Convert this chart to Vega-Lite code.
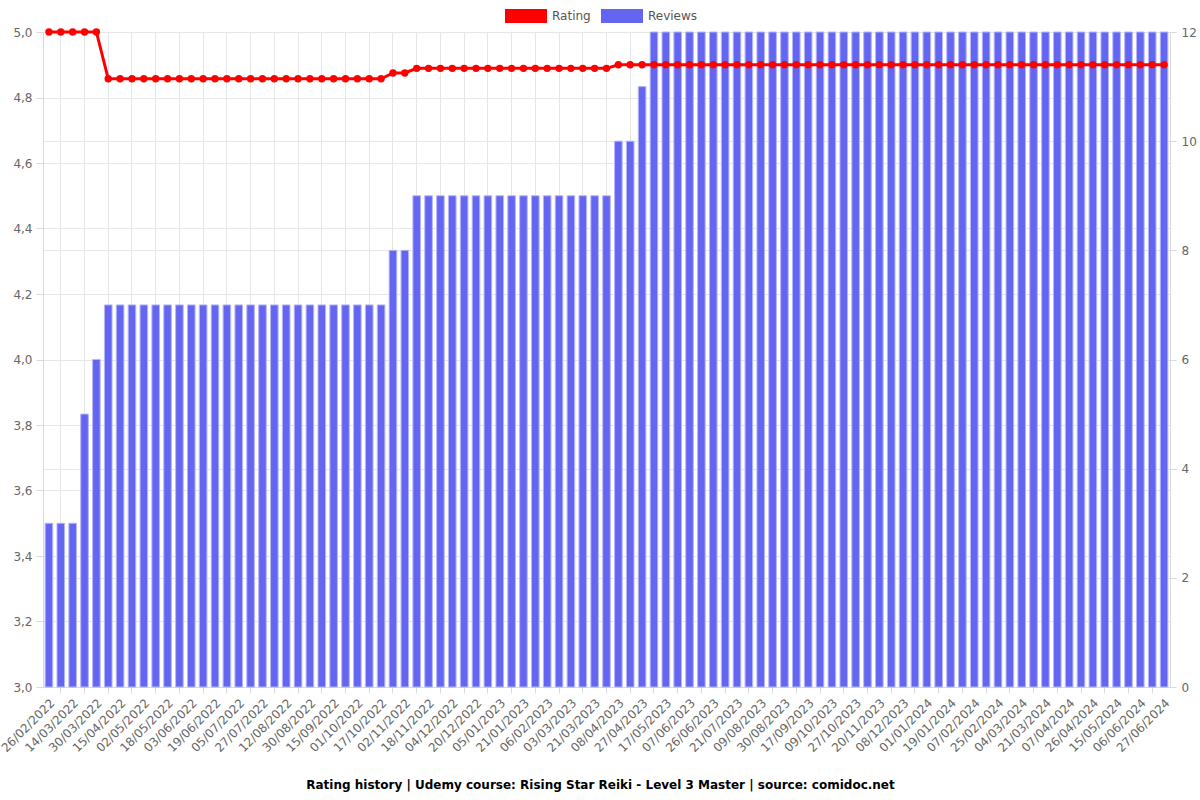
{
  "$schema": "https://vega.github.io/schema/vega-lite/v6.json",
  "width": 1127,
  "height": 655,
  "autosize": {"type": "none"},
  "padding": {"left": 43, "top": 32, "right": 30, "bottom": 113},
  "config": {
    "font": "DejaVu Sans",
    "view": {"stroke": null},
    "axis": {"labelColor": "#666666", "labelFontSize": 12, "gridColor": "#e6e6e6", "domainColor": "#d9d9d9", "tickColor": "#d9d9d9", "labelFont": "DejaVu Sans"}
  },
  "title": {
    "text": "Rating history | Udemy course: Rising Star Reiki - Level 3 Master | source: comidoc.net",
    "orient": "bottom", "anchor": "middle", "fontSize": 12, "fontWeight": "bold", "color": "#000000", "font": "DejaVu Sans", "offset": 26, "dx": -6
  },
  "data": {"values": [
    {"date": "26/02/2022", "rating": 5, "reviews": 3},
    {"date": "06/03/2022", "rating": 5, "reviews": 3},
    {"date": "14/03/2022", "rating": 5, "reviews": 3},
    {"date": "22/03/2022", "rating": 5, "reviews": 5},
    {"date": "30/03/2022", "rating": 5, "reviews": 6},
    {"date": "07/04/2022", "rating": 4.857, "reviews": 7},
    {"date": "15/04/2022", "rating": 4.857, "reviews": 7},
    {"date": "24/04/2022", "rating": 4.857, "reviews": 7},
    {"date": "02/05/2022", "rating": 4.857, "reviews": 7},
    {"date": "10/05/2022", "rating": 4.857, "reviews": 7},
    {"date": "18/05/2022", "rating": 4.857, "reviews": 7},
    {"date": "26/05/2022", "rating": 4.857, "reviews": 7},
    {"date": "03/06/2022", "rating": 4.857, "reviews": 7},
    {"date": "11/06/2022", "rating": 4.857, "reviews": 7},
    {"date": "19/06/2022", "rating": 4.857, "reviews": 7},
    {"date": "27/06/2022", "rating": 4.857, "reviews": 7},
    {"date": "05/07/2022", "rating": 4.857, "reviews": 7},
    {"date": "16/07/2022", "rating": 4.857, "reviews": 7},
    {"date": "27/07/2022", "rating": 4.857, "reviews": 7},
    {"date": "04/08/2022", "rating": 4.857, "reviews": 7},
    {"date": "12/08/2022", "rating": 4.857, "reviews": 7},
    {"date": "21/08/2022", "rating": 4.857, "reviews": 7},
    {"date": "30/08/2022", "rating": 4.857, "reviews": 7},
    {"date": "07/09/2022", "rating": 4.857, "reviews": 7},
    {"date": "15/09/2022", "rating": 4.857, "reviews": 7},
    {"date": "23/09/2022", "rating": 4.857, "reviews": 7},
    {"date": "01/10/2022", "rating": 4.857, "reviews": 7},
    {"date": "09/10/2022", "rating": 4.857, "reviews": 7},
    {"date": "17/10/2022", "rating": 4.857, "reviews": 7},
    {"date": "25/10/2022", "rating": 4.875, "reviews": 8},
    {"date": "02/11/2022", "rating": 4.875, "reviews": 8},
    {"date": "10/11/2022", "rating": 4.889, "reviews": 9},
    {"date": "18/11/2022", "rating": 4.889, "reviews": 9},
    {"date": "26/11/2022", "rating": 4.889, "reviews": 9},
    {"date": "04/12/2022", "rating": 4.889, "reviews": 9},
    {"date": "12/12/2022", "rating": 4.889, "reviews": 9},
    {"date": "20/12/2022", "rating": 4.889, "reviews": 9},
    {"date": "28/12/2022", "rating": 4.889, "reviews": 9},
    {"date": "05/01/2023", "rating": 4.889, "reviews": 9},
    {"date": "13/01/2023", "rating": 4.889, "reviews": 9},
    {"date": "21/01/2023", "rating": 4.889, "reviews": 9},
    {"date": "29/01/2023", "rating": 4.889, "reviews": 9},
    {"date": "06/02/2023", "rating": 4.889, "reviews": 9},
    {"date": "18/02/2023", "rating": 4.889, "reviews": 9},
    {"date": "03/03/2023", "rating": 4.889, "reviews": 9},
    {"date": "12/03/2023", "rating": 4.889, "reviews": 9},
    {"date": "21/03/2023", "rating": 4.889, "reviews": 9},
    {"date": "30/03/2023", "rating": 4.889, "reviews": 9},
    {"date": "08/04/2023", "rating": 4.9, "reviews": 10},
    {"date": "17/04/2023", "rating": 4.9, "reviews": 10},
    {"date": "27/04/2023", "rating": 4.9, "reviews": 11},
    {"date": "07/05/2023", "rating": 4.9, "reviews": 12},
    {"date": "17/05/2023", "rating": 4.9, "reviews": 12},
    {"date": "27/05/2023", "rating": 4.9, "reviews": 12},
    {"date": "07/06/2023", "rating": 4.9, "reviews": 12},
    {"date": "16/06/2023", "rating": 4.9, "reviews": 12},
    {"date": "26/06/2023", "rating": 4.9, "reviews": 12},
    {"date": "08/07/2023", "rating": 4.9, "reviews": 12},
    {"date": "21/07/2023", "rating": 4.9, "reviews": 12},
    {"date": "30/07/2023", "rating": 4.9, "reviews": 12},
    {"date": "09/08/2023", "rating": 4.9, "reviews": 12},
    {"date": "19/08/2023", "rating": 4.9, "reviews": 12},
    {"date": "30/08/2023", "rating": 4.9, "reviews": 12},
    {"date": "08/09/2023", "rating": 4.9, "reviews": 12},
    {"date": "17/09/2023", "rating": 4.9, "reviews": 12},
    {"date": "28/09/2023", "rating": 4.9, "reviews": 12},
    {"date": "09/10/2023", "rating": 4.9, "reviews": 12},
    {"date": "18/10/2023", "rating": 4.9, "reviews": 12},
    {"date": "27/10/2023", "rating": 4.9, "reviews": 12},
    {"date": "08/11/2023", "rating": 4.9, "reviews": 12},
    {"date": "20/11/2023", "rating": 4.9, "reviews": 12},
    {"date": "29/11/2023", "rating": 4.9, "reviews": 12},
    {"date": "08/12/2023", "rating": 4.9, "reviews": 12},
    {"date": "20/12/2023", "rating": 4.9, "reviews": 12},
    {"date": "01/01/2024", "rating": 4.9, "reviews": 12},
    {"date": "10/01/2024", "rating": 4.9, "reviews": 12},
    {"date": "19/01/2024", "rating": 4.9, "reviews": 12},
    {"date": "28/01/2024", "rating": 4.9, "reviews": 12},
    {"date": "07/02/2024", "rating": 4.9, "reviews": 12},
    {"date": "16/02/2024", "rating": 4.9, "reviews": 12},
    {"date": "25/02/2024", "rating": 4.9, "reviews": 12},
    {"date": "29/02/2024", "rating": 4.9, "reviews": 12},
    {"date": "04/03/2024", "rating": 4.9, "reviews": 12},
    {"date": "12/03/2024", "rating": 4.9, "reviews": 12},
    {"date": "21/03/2024", "rating": 4.9, "reviews": 12},
    {"date": "30/03/2024", "rating": 4.9, "reviews": 12},
    {"date": "07/04/2024", "rating": 4.9, "reviews": 12},
    {"date": "16/04/2024", "rating": 4.9, "reviews": 12},
    {"date": "26/04/2024", "rating": 4.9, "reviews": 12},
    {"date": "05/05/2024", "rating": 4.9, "reviews": 12},
    {"date": "15/05/2024", "rating": 4.9, "reviews": 12},
    {"date": "26/05/2024", "rating": 4.9, "reviews": 12},
    {"date": "06/06/2024", "rating": 4.9, "reviews": 12},
    {"date": "17/06/2024", "rating": 4.9, "reviews": 12},
    {"date": "27/06/2024", "rating": 4.9, "reviews": 12}
  ]},
  "encoding": {
    "x": {
      "field": "date", "type": "ordinal", "sort": null,
      "scale": {"paddingInner": 0.36, "paddingOuter": 0.18},
      "axis": {
        "title": null, "labelAngle": -45, "labelAlign": "right", "labelBaseline": "top",
        "labelPadding": 4, "tickSize": 6, "labelOverlap": false, "labelBound": false,
        "labelExpr": "round(datum.index*94)%2==0 ? datum.label : ''",
        "grid": true,
        "gridOpacity": {"condition": {"test": "round(datum.index*94)%2==1", "value": 1}, "value": 0},
        "tickOpacity": {"condition": {"test": "round(datum.index*94)%2==1", "value": 1}, "value": 0}
      }
    }
  },
  "layer": [
    {
      "mark": {"type": "bar", "stroke": "#b5b7f8", "strokeWidth": 1},
      "encoding": {
        "y": {"field": "reviews", "type": "quantitative", "scale": {"domain": [0, 12]},
          "axis": {"title": null, "orient": "right", "values": [0, 2, 4, 6, 8, 10, 12], "tickSize": 6, "labelPadding": 5, "grid": true}},
        "color": {"datum": "Reviews", "type": "nominal",
          "scale": {"domain": ["Rating", "Reviews"], "range": ["#ff0000", "#6466f1"]},
          "legend": {
            "title": null, "orient": "none", "legendX": 462, "legendY": -37, "direction": "horizontal",
            "symbolType": "M-1,-0.333L1,-0.333L1,0.333L-1,0.333Z", "symbolSize": 1764,
            "labelFontSize": 12, "labelColor": "#555555", "labelFont": "DejaVu Sans", "labelOffset": 5, "columnPadding": 10, "padding": 0,
            "symbolStrokeWidth": 0, "symbolOpacity": 1,
            "encode": {"symbols": {"update": {"fill": {"scale": "color", "field": "value"}, "stroke": {"value": "transparent"}, "strokeWidth": {"value": 0}}}}
          }}
      }
    },
    {
      "mark": {"type": "line", "strokeWidth": 3, "point": {"filled": true, "size": 55}},
      "encoding": {
        "y": {"field": "rating", "type": "quantitative", "scale": {"domain": [3, 5]},
          "axis": {"title": null, "orient": "left", "values": [3, 3.2, 3.4, 3.6, 3.8, 4, 4.2, 4.4, 4.6, 4.8, 5],
            "labelExpr": "replace(format(datum.value, '.1f'), '.', ',')", "tickSize": 7, "labelPadding": 4, "grid": true}},
        "color": {"datum": "Rating", "type": "nominal"}
      }
    }
  ],
  "resolve": {"scale": {"y": "independent"}}
}
